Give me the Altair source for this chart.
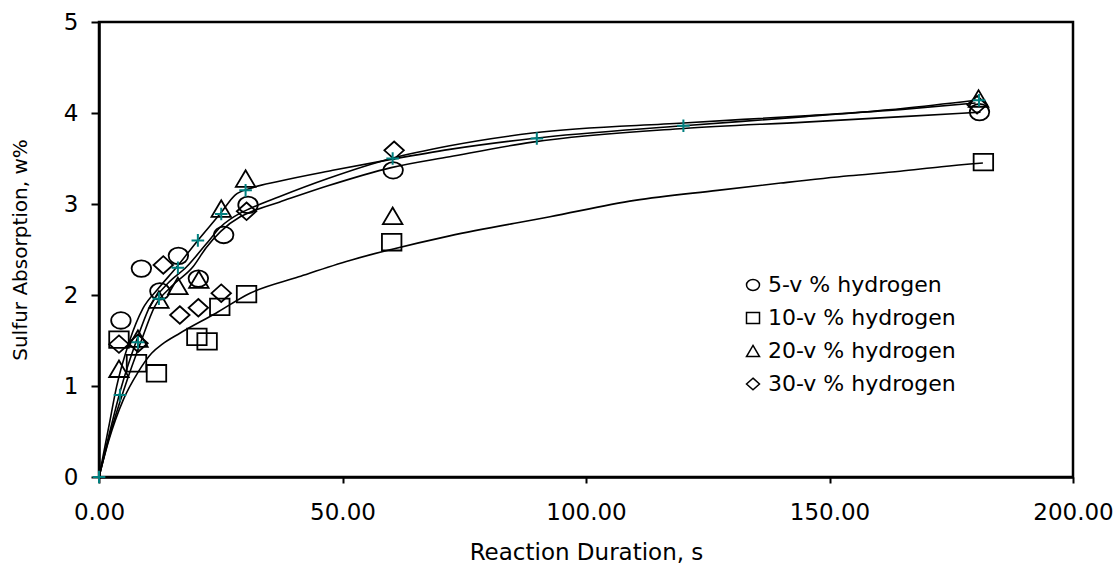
import altair as alt
import pandas as pd

# ---- measured series (markers) ----
s5_x = [4.5, 8.7, 12.5, 16.3, 20.4, 25.6, 30.6, 60.4, 180.8]
s5_y = [1.72, 2.29, 2.04, 2.43, 2.18, 2.66, 2.99, 3.37, 4.01]
s10_x = [4.1, 7.7, 11.8, 20.1, 22.2, 24.8, 30.3, 60.1, 181.6]
s10_y = [1.51, 1.25, 1.14, 1.54, 1.49, 1.87, 2.01, 2.58, 3.46]
s20_x = [4.1, 8.0, 12.3, 16.2, 20.5, 25.1, 30.1, 60.3, 180.6]
s20_y = [1.19, 1.52, 1.95, 2.10, 2.17, 2.95, 3.28, 2.87, 4.16]
s30_x = [4.1, 8.0, 13.2, 16.6, 20.4, 25.1, 30.3, 60.6, 180.3]
s30_y = [1.46, 1.47, 2.33, 1.78, 1.86, 2.02, 2.92, 3.59, 4.09]

# ---- model points (teal crosses) ----
plus_x = [0, 4.3, 8.0, 12.3, 16.2, 20.3, 25.1, 30.1, 60.3, 89.9, 120.0, 180.7]
plus_y = [0, 0.90, 1.48, 1.96, 2.30, 2.60, 2.89, 3.15, 3.50, 3.72, 3.86, 4.14]

# ---- smooth trend curves ----
cT_x = [0, 2, 3.6, 6.3, 9.0, 12, 16, 20, 25, 28, 31, 37, 48, 60, 72, 89, 120, 145, 165, 180]
cT_y = [0, 0.55, 0.99, 1.50, 1.85, 2.06, 2.31, 2.58, 2.90, 3.10, 3.17, 3.25, 3.37, 3.49, 3.60, 3.72, 3.86, 3.96, 4.05, 4.14]
cD_x = [0, 2, 4.6, 7.7, 10.4, 14, 18, 22, 25, 29, 31, 37, 47, 60, 72, 89, 120, 145, 165, 180]
cD_y = [0, 0.45, 0.99, 1.50, 1.87, 2.12, 2.31, 2.56, 2.75, 2.90, 2.95, 3.08, 3.28, 3.50, 3.64, 3.78, 3.89, 3.97, 4.04, 4.11]
cC_x = [0, 2, 5.3, 8.7, 11.4, 15, 19.3, 22, 25, 29, 31, 37, 47, 60, 72, 89, 120, 145, 165, 181]
cC_y = [0, 0.42, 0.99, 1.50, 1.87, 2.10, 2.31, 2.52, 2.70, 2.86, 2.91, 3.02, 3.20, 3.40, 3.52, 3.68, 3.83, 3.90, 3.96, 4.01]
cS_x = [0, 2, 5, 8, 10.8, 13, 16.6, 24, 31, 41, 51.5, 60, 72, 92.6, 110, 127, 140, 154, 164.5, 173, 181.5]
cS_y = [0, 0.40, 0.85, 1.15, 1.36, 1.46, 1.58, 1.80, 2.02, 2.20, 2.38, 2.50, 2.65, 2.86, 3.04, 3.15, 3.23, 3.31, 3.36, 3.41, 3.45]

labels = ["5-v % hydrogen", "10-v % hydrogen", "20-v % hydrogen", "30-v % hydrogen"]

rows = []
for lab, xs_, ys_ in zip(labels, [s5_x, s10_x, s20_x, s30_x], [s5_y, s10_y, s20_y, s30_y]):
    for a, b in zip(xs_, ys_):
        rows.append({"series": lab, "x": a, "y": b})
pts = pd.DataFrame(rows)

crv = []
for cid, xs_, ys_ in [("T", cT_x, cT_y), ("D", cD_x, cD_y), ("C", cC_x, cC_y), ("S", cS_x, cS_y)]:
    for a, b in zip(xs_, ys_):
        crv.append({"curve": cid, "x": a, "y": b})
curves = pd.DataFrame(crv)

plus = pd.DataFrame({"x": plus_x, "y": plus_y})

FONT = "DejaVu Sans"
circle_path = "M -1 0 A 1 0.85 0 1 1 1 0 A 1 0.85 0 1 1 -1 0 Z"
square_path = "M -1 -0.85 L 1 -0.85 L 1 0.85 L -1 0.85 Z"
triangle_path = "M 0 -0.85 L 1 0.85 L -1 0.85 Z"
diamond_path = "M 0 -0.9 L 1 0 L 0 0.9 L -1 0 Z"
plus_path = "M -1 0 L 1 0 M 0 -1 L 0 1"

xs = alt.Scale(domain=[0, 200], nice=False, zero=False)
ys = alt.Scale(domain=[0, 5], nice=False)

xaxis = alt.Axis(values=[0, 50, 100, 150, 200], format=".2f", grid=False,
                 title="Reaction Duration, s", titleFont=FONT, titleFontSize=23,
                 titleFontWeight="normal", titleColor="black",
                 titleY=75, titleBaseline="middle",
                 labelFont=FONT, labelFontSize=23, labelColor="black", labelPadding=18,
                 tickSize=6, tickWidth=2, tickColor="black",
                 domainColor="black", domainWidth=2.5, labelFlush=False)
yaxis = alt.Axis(values=[0, 1, 2, 3, 4, 5], format="d", grid=False,
                 title="Sulfur Absorption, w%", titleFont=FONT, titleFontSize=20,
                 titleFontWeight="normal", titleColor="black",
                 titleX=-79, titleY=227.5, titleAngle=270, titleBaseline="middle",
                 labelFont=FONT, labelFontSize=23, labelColor="black", labelPadding=13,
                 tickSize=8, tickWidth=2, tickColor="black",
                 domainColor="black", domainWidth=2.5, labelFlush=False)

lines = alt.Chart(curves).mark_line(color="black", strokeWidth=1.6, interpolate="monotone").encode(
    x=alt.X("x:Q", scale=xs, axis=xaxis),
    y=alt.Y("y:Q", scale=ys, axis=yaxis),
    detail="curve:N",
)

markers = alt.Chart(pts).mark_point(filled=False, color="black", strokeWidth=1.8, size=380, opacity=1).encode(
    x=alt.X("x:Q", scale=xs),
    y=alt.Y("y:Q", scale=ys),
    shape=alt.Shape("series:N",
                    scale=alt.Scale(domain=labels,
                                    range=[circle_path, square_path, triangle_path, diamond_path]),
                    sort=labels,
                    legend=alt.Legend(orient="none", legendX=643, legendY=252, title=None,
                                      labelFont=FONT, labelFontSize=22, labelColor="black",
                                      labelLimit=0,
                                      symbolSize=169, symbolStrokeWidth=1.5,
                                      symbolStrokeColor="black", symbolFillColor="transparent",
                                      rowPadding=11, labelOffset=4, padding=0)),
)

crosses = alt.Chart(plus).mark_point(filled=False, shape=plus_path, color="#008080",
                                     strokeWidth=2, size=160, opacity=1).encode(
    x=alt.X("x:Q", scale=xs),
    y=alt.Y("y:Q", scale=ys),
)

chart = alt.layer(lines, markers, crosses).properties(
    width=974, height=455,
    autosize=alt.AutoSizeParams(type="none"),
    padding={"left": 99, "top": 22, "right": 47, "bottom": 88},
    background="white",
).configure_view(stroke="black", strokeWidth=2.5)

chart.save("out.html", embed_options={"renderer": "svg", "actions": False})
